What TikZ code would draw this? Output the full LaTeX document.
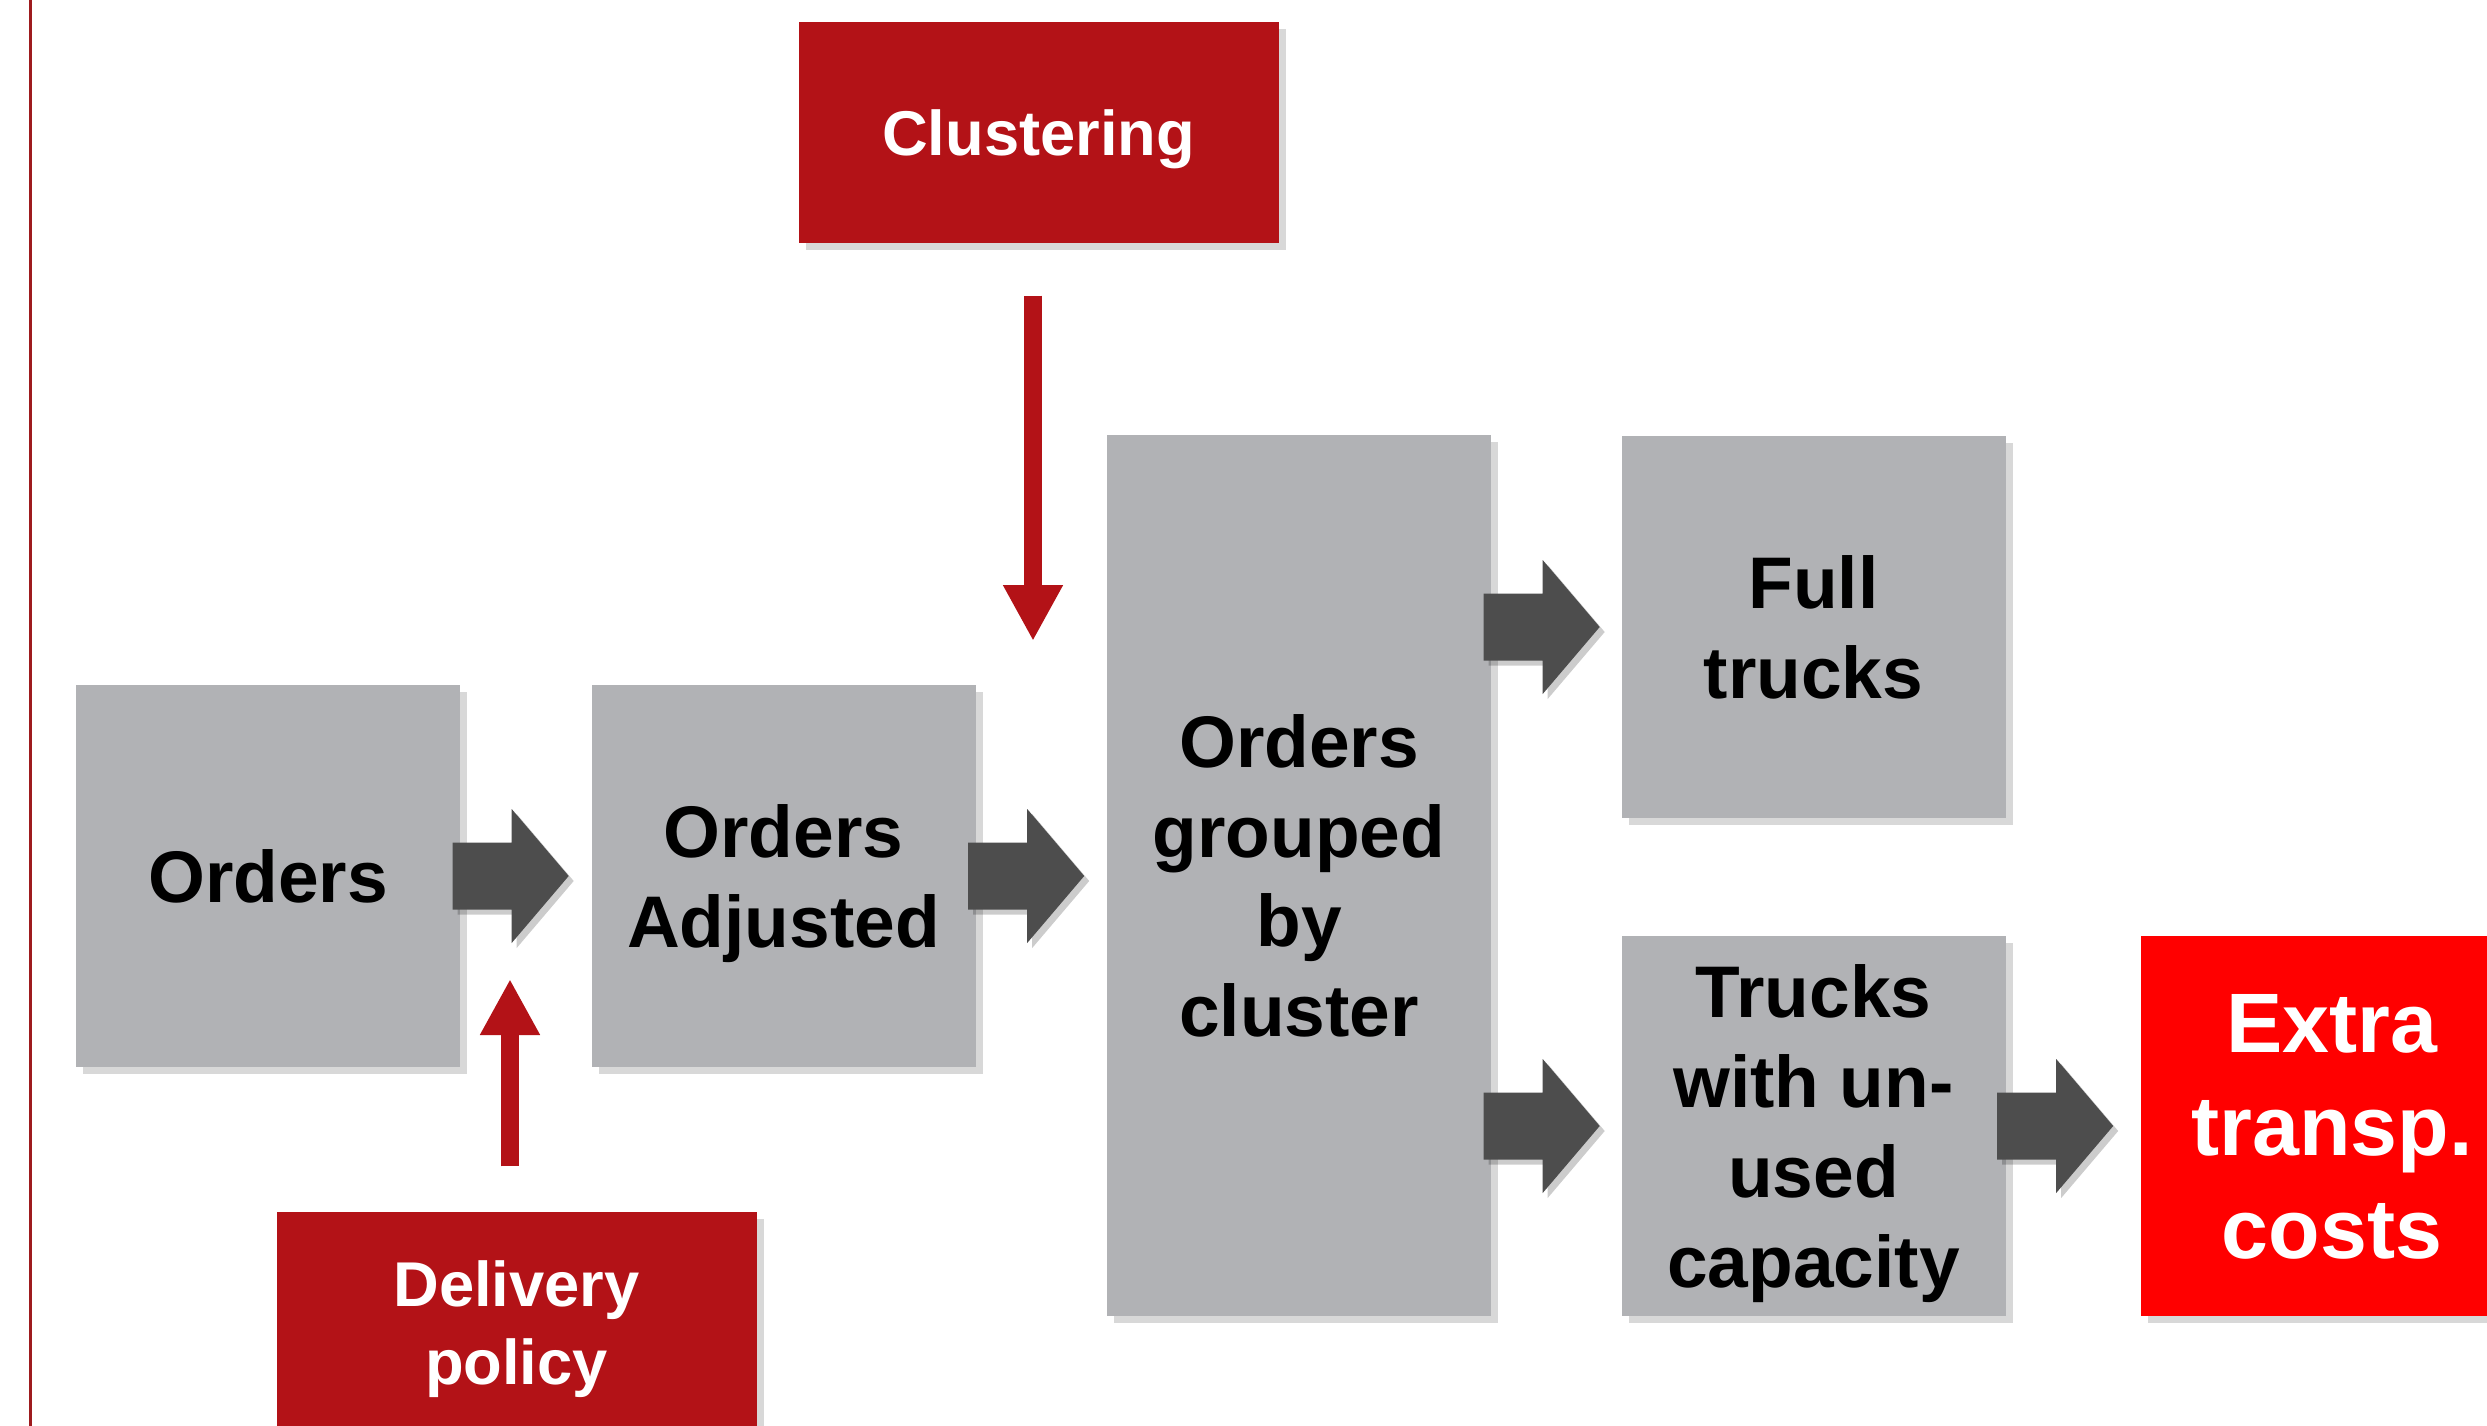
\documentclass[tikz,border=0pt]{standalone}
\usepackage{fontspec}
\setmainfont{Liberation Sans}
\usetikzlibrary{shapes,arrows.meta,positioning,shadows}
\usepackage{xcolor}

\definecolor{boxgray}{HTML}{B1B2B5}
\definecolor{policyred}{HTML}{B31217}
\definecolor{costred}{HTML}{FF0000}
\definecolor{arrowgray}{HTML}{4D4D4D}
\definecolor{railred}{HTML}{9E1B1E}

\tikzset{
  softshadow/.style={drop shadow={shadow xshift=0.07cm, shadow yshift=-0.07cm, opacity=0.3}},
  box/.style={fill=boxgray, minimum width=3.84cm, minimum height=3.82cm, inner sep=0pt,
    align=center, text depth=0pt, font=\fontsize{20.8}{25.6}\selectfont\bfseries, softshadow},
  policy/.style={fill=policyred, text=white, minimum width=4.8cm, minimum height=2.21cm,
    inner sep=0pt, align=center, text depth=0pt, font=\fontsize{18}{22}\selectfont\bfseries, softshadow},
  cost/.style={fill=costred, text=white, minimum width=3.82cm, minimum height=3.8cm,
    inner sep=0pt, align=center, text depth=0pt, font=\fontsize{24}{29.3}\selectfont\bfseries, softshadow},
  redarrow/.style={policyred, line width=0.18cm, -{Triangle[width=0.56cm,length=0.56cm]}},
  blockarr/.pic={
    \fill[black, opacity=0.2, xshift=0.05cm, yshift=-0.05cm] (0,0.335) -- ++(0.59,0) -- ++(0,0.335)
      -- ++(0.57,-0.67) -- ++(-0.57,-0.67) -- ++(0,0.335) -- ++(-0.59,0) -- cycle;
    \fill[arrowgray] (0,0.335) -- ++(0.59,0) -- ++(0,0.335)
      -- ++(0.57,-0.67) -- ++(-0.57,-0.67) -- ++(0,0.335) -- ++(-0.59,0) -- cycle;
  }
}

\begin{document}
\begin{tikzpicture}
  \clip (0,0) rectangle (24.87,-14.26);
  \fill[white] (0,0) rectangle (24.87,-14.26);

  % left rule
  \draw[railred, line width=0.03cm] (0.31,0) -- (0.31,-14.26);

  % inputs
  \node[policy] (cluster) at (10.385,-1.325) {Clustering};
  \node[policy] (policy) at (5.165,-13.225) {Delivery\\policy};

  % flow boxes
  \node[box] (orders) at (2.68,-8.76) {Orders};
  \node[box] (adjusted) at (7.835,-8.76) {Orders\\Adjusted};
  \node[box, minimum height=8.81cm] (grouped) at (12.99,-8.755) {Orders\\grouped\\by\\cluster};
  \node[box] (full) at (18.135,-6.27) {Full\\trucks};
  \node[box, minimum height=3.8cm] (unused) at (18.135,-11.26) {Trucks\\with un-\\used\\capacity};
  \node[cost] (extra) at (23.32,-11.26) {Extra\\transp.\\costs};

  % block arrows
  \path (orders.east) ++(-0.08,0) pic {blockarr};
  \path (adjusted.east) ++(-0.08,0) pic {blockarr};
  \path (grouped.east |- full.west) ++(-0.08,0) pic {blockarr};
  \path (grouped.east |- unused.west) ++(-0.08,0) pic {blockarr};
  \path (unused.east) ++(-0.09,0) pic {blockarr};

  % red arrows
  \coordinate (clustertip) at (10.33,-6.41);
  \draw[redarrow, shorten <=0.52cm] (cluster.south -| clustertip) -- (clustertip);
  \coordinate (policytip) at (5.10,-9.79);
  \draw[redarrow, shorten <=0.45cm] (policy.north -| policytip) -- (policytip);
\end{tikzpicture}
\end{document}
